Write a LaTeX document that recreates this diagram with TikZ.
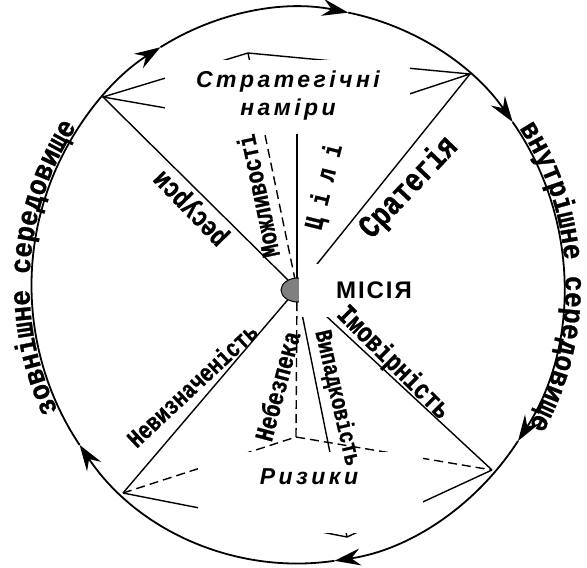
\documentclass[tikz,border=0pt]{standalone}
\usepackage{fontspec}
\newfontfamily\slabfont{Liberation Mono}[FakeStretch=0.8, FakeBold=1]
\newfontfamily\ringfont{Liberation Mono}[FakeStretch=0.9, FakeBold=1]
\newfontfamily\headfont{Liberation Sans}[LetterSpace=15]
\newfontfamily\missfont{Liberation Sans}[LetterSpace=8]
\newcommand\rimfont{\ringfont\bfseries\fontsize{29}{29}\selectfont}
\usetikzlibrary{arrows.meta,decorations.text}

\begin{document}
\begin{tikzpicture}[x=1pt, y=-1pt,
 edge/.style={line width=1.4pt},
 hidden/.style={edge, dash pattern=on 9pt off 5pt},
 rim/.style={line width=1.8pt, -{Stealth[length=26pt, width=17pt, inset=9pt]}},
 lab/.style={font=\slabfont\bfseries\fontsize{#1}{#1}\selectfont, inner sep=0pt},
 head/.style={font=\headfont\bfseries\itshape\fontsize{23}{28}\selectfont, align=center, inner sep=0pt}]
\useasboundingbox (0,0) rectangle (587,568);

% Corners of the two pyramids
\coordinate (o) at (297.5,285.5);
\coordinate (c) at (297,289);
\coordinate (ul) at (103,97);
\coordinate (ur) at (470,74);
\coordinate (tb) at (248,53);
\coordinate (tf) at (297,131);
\coordinate (ll) at (123,493);
\coordinate (lr) at (492,470);
\coordinate (bb) at (296,437);
\coordinate (bf) at (347,537);

% Edges
\foreach \v in {ul,ur,tf,ll,lr,bf}
  \draw[edge] (c) -- (\v);
\foreach \v in {tb,bb}
  \draw[hidden] (\v) -- (c);
\draw[edge] (ul) -- (tb) -- (ur) -- (tf) -- cycle;
\draw[hidden] (ll) -- (bb) -- (lr);
\draw[edge] (ll) -- (bf) -- (lr);

% Centre
\filldraw[fill=gray, line width=1pt] (298,290) ellipse [x radius=17, y radius=12];

% White covers under the labels
\fill[white] (165,60) rectangle (410,134);
\fill[white] (198,452) rectangle (423,533);
\fill[white] (298.6,264) rectangle (420,317);

% Labels
\node[head] (aim) at (288,96) {Стратегічні\\наміри};
\node[head] (risk) at (309,477) {Ризики};
\node[font=\missfont\bfseries\fontsize{24}{24}\selectfont, inner sep=0pt] (mis) at (374,290) {МІСІЯ};

\node[lab=28, rotate=134] (res) at (192,207) {ресурси};
\node[lab=26, rotate=102] (opp) at (258,196) {Можливості};
\node[lab=26, rotate=76] (goal) at (325,187) {Ц і л і};
\node[lab=33, rotate=46.5] (str) at (409,188) {Сратегія};
\node[lab=25, rotate=43] (unc) at (192,385) {Невизначеність};
\node[lab=26, rotate=75] (dang) at (277,386) {Небезпека};
\node[lab=24, rotate=-77] (rand) at (337,398) {Випадковість};
\node[lab=28, rotate=-45] (prob) at (393,363) {Імовірність};

% Outer ring
\foreach \s/\e in {-121/-79, -79/-36, -36/34, 34/82, 82/145, 145/239}
  \draw[rim] (o) ++(\s:266 and 278) arc[start angle=\s, end angle=\e, x radius=266, y radius=278];

% Surroundings
\path[decorate, decoration={text along path, text align=center, text={|\rimfont|зовнішне середовище}}]
  (o) ++(-216:268 and 280) arc[start angle=-216, end angle=-136, x radius=268, y radius=280];
\path[decorate, decoration={text along path, text align=center, text={|\rimfont|внутрішне середовище}}]
  (o) ++(-42:268 and 280) arc[start angle=-42, end angle=38, x radius=268, y radius=280];
\end{tikzpicture}
\end{document}
